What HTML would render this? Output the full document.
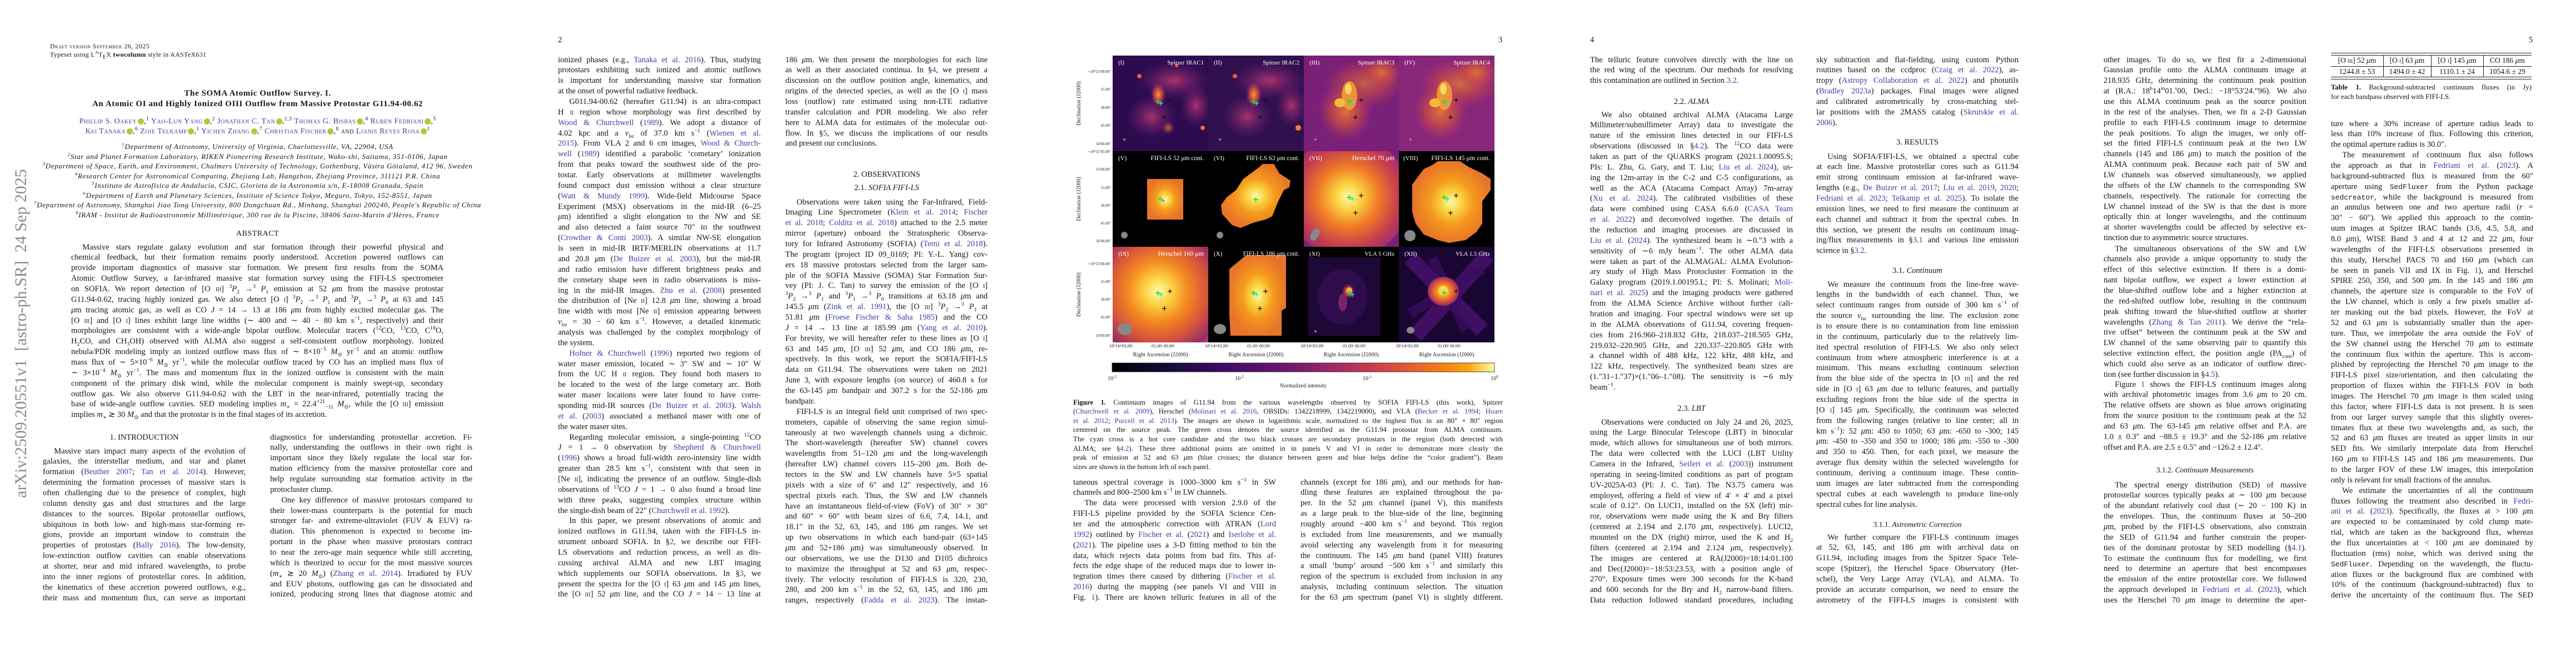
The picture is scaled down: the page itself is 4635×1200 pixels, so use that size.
<!DOCTYPE html>
<html><head><meta charset="utf-8">
<style>
body{margin:0;width:4635px;height:1200px;background:#fff;position:relative;overflow:hidden;font-family:"Liberation Serif","DejaVu Serif",serif;color:#151515}
.pg{position:absolute;top:0;width:927px;height:1200px}
.b{position:absolute;width:365px;font-size:14.5px;line-height:18.87px}
.b div{height:18.87px;overflow:hidden;text-align:justify;text-align-last:justify;white-space:nowrap}
.b div.e{text-align-last:left}
.b div.i{text-indent:1.4em}
.c{color:#3f3fa6}
sup,sub{font-size:68%;line-height:0}
.h{position:absolute;width:365px;text-align:center;font-size:14.5px;line-height:19px;white-space:nowrap}
.pn{position:absolute;top:64px;font-size:14.5px}
.t{position:absolute;white-space:nowrap}
.sc{font-variant:small-caps}
.orc{display:inline-block;width:11px;height:11px;border-radius:50%;background:#a6ce39;vertical-align:middle;margin-left:2px}
</style></head><body>

<!-- PAGE 1 -->
<div class="pg" style="left:0">
<div class="t" style="left:0;top:0;width:0;height:0">
 <div style="position:absolute;left:38px;top:600px;transform:translate(-50%,-50%) rotate(-90deg);font-size:30px;color:#8a8a8a;white-space:nowrap">arXiv:2509.20551v1&nbsp; [astro-ph.SR]&nbsp; 24 Sep 2025</div>
</div>
<div class="t sc" style="left:90px;top:76px;font-size:12px;letter-spacing:.5px">Draft version September 26, 2025</div>
<div class="t" style="left:90px;top:91px;font-size:12px;letter-spacing:.3px">Typeset using L<sup style="font-size:8px">A</sup>T<sub style="font-size:10px">E</sub>X <b>twocolumn</b> style in AASTeX631</div>
<div class="t" style="left:0;width:927px;text-align:center;top:160px;font-size:15px;font-weight:bold;letter-spacing:.6px">The SOMA Atomic Outflow Survey. I.</div>
<div class="t" style="left:0;width:927px;text-align:center;top:179px;font-size:15px;font-weight:bold;letter-spacing:.6px">An Atomic OI and Highly Ionized OIII Outflow from Massive Protostar G11.94-00.62</div>
<div class="t sc c" style="left:0;width:927px;text-align:center;top:211px;font-size:14px;letter-spacing:.5px">Phillip S. Oakey<span class="orc"></span><span style="color:#151515">,<sup>1</sup></span> Yao-Lun Yang<span class="orc"></span><span style="color:#151515">,<sup>2</sup></span> Jonathan C. Tan<span class="orc"></span><span style="color:#151515">,<sup>1,3</sup></span> Thomas G. Bisbas<span class="orc"></span><span style="color:#151515">,<sup>4</sup></span> Rubén Fedriani<span class="orc"></span><span style="color:#151515">,<sup>5</sup></span></div>
<div class="t sc c" style="left:0;width:927px;text-align:center;top:229px;font-size:14px;letter-spacing:.5px">Kei Tanaka<span class="orc"></span><span style="color:#151515">,<sup>6</sup></span> Zoie Telkamp<span class="orc"></span><span style="color:#151515">,<sup>1</sup></span> Yichen Zhang<span class="orc"></span><span style="color:#151515">,<sup>7</sup></span> Christian Fischer<span class="orc"></span><span style="color:#151515">,<sup>8</sup> and </span>Lianis Reyes Rosa<span class="orc"></span><span style="color:#151515"><sup>1</sup></span></div>
<div style="position:absolute;left:0;width:927px;top:255px;text-align:center;font-style:italic;font-size:13px;letter-spacing:.7px;line-height:17.5px;white-space:nowrap">
<div><sup>1</sup>Department of Astronomy, University of Virginia, Charlottesville, VA, 22904, USA</div>
<div><sup>2</sup>Star and Planet Formation Laboratory, RIKEN Pioneering Research Institute, Wako-shi, Saitama, 351-0106, Japan</div>
<div><sup>3</sup>Department of Space, Earth, and Environment, Chalmers University of Technology, Gothenburg, Västra Götaland, 412 96, Sweden</div>
<div><sup>4</sup>Research Center for Astronomical Computing, Zhejiang Lab, Hangzhou, Zhejiang Province, 311121 P.R. China</div>
<div><sup>5</sup>Instituto de Astrofísica de Andalucía, CSIC, Glorieta de la Astronomía s/n, E-18008 Granada, Spain</div>
<div><sup>6</sup>Department of Earth and Planetary Sciences, Institute of Science Tokyo, Meguro, Tokyo, 152-8551, Japan</div>
<div><sup>7</sup>Department of Astronomy, Shanghai Jiao Tong University, 800 Dongchuan Rd., Minhang, Shanghai 200240, People's Republic of China</div>
<div><sup>8</sup>IRAM - Institut de Radioastronomie Millimétrique, 300 rue de la Piscine, 38406 Saint-Martin d'Hères, France</div>
</div>
<div class="t" style="left:0;width:927px;text-align:center;top:413px;font-size:14px;letter-spacing:.5px">ABSTRACT</div>
<div class="b" style="left:128px;top:435.6px;width:670px">
<div class="i">Massive stars regulate galaxy evolution and star formation through their powerful physical and</div>
<div>chemical feedback, but their formation remains poorly understood. Accretion powered outflows can</div>
<div>provide important diagnostics of massive star formation. We present first results from the SOMA</div>
<div>Atomic Outflow Survey, a far-infrared massive star formation survey using the FIFI-LS spectrometer</div>
<div>on SOFIA. We report detection of [O <span class="sc">iii</span>] <sup>3</sup><i>P</i><sub>2</sub> →<sup>3</sup> <i>P</i><sub>1</sub> emission at 52 <i>μ</i>m from the massive protostar</div>
<div>G11.94-0.62, tracing highly ionized gas. We also detect [O <span class="sc">i</span>] <sup>3</sup><i>P</i><sub>2</sub> →<sup>3</sup> <i>P</i><sub>1</sub> and <sup>3</sup><i>P</i><sub>1</sub> →<sup>3</sup> <i>P</i><sub>0</sub> at 63 and 145</div>
<div><i>μ</i>m tracing atomic gas, as well as CO <i>J</i> = 14 → 13 at 186 <i>μ</i>m from highly excited molecular gas. The</div>
<div>[O <span class="sc">iii</span>] and [O <span class="sc">i</span>] lines exhibit large line widths (∼ 400 and ∼ 40 − 80 km s<sup>−1</sup>, respectively) and their</div>
<div>morphologies are consistent with a wide-angle bipolar outflow. Molecular tracers (<sup>12</sup>CO, <sup>13</sup>CO, C<sup>18</sup>O,</div>
<div>H<sub>2</sub>CO, and CH<sub>3</sub>OH) observed with ALMA also suggest a self-consistent outflow morphology. Ionized</div>
<div>nebula/PDR modeling imply an ionized outflow mass flux of ∼ 8×10<sup>−5</sup> <i>M</i><sub>⊙</sub> yr<sup>−1</sup> and an atomic outflow</div>
<div>mass flux of ∼ 5×10<sup>−6</sup> <i>M</i><sub>⊙</sub> yr<sup>−1</sup>, while the molecular outflow traced by CO has an implied mass flux of</div>
<div>∼ 3×10<sup>−4</sup> <i>M</i><sub>⊙</sub> yr<sup>−1</sup>. The mass and momentum flux in the ionized outflow is consistent with the main</div>
<div>component of the primary disk wind, while the molecular component is mainly swept-up, secondary</div>
<div>outflow gas. We also observe G11.94-0.62 with the LBT in the near-infrared, potentially tracing the</div>
<div>base of wide-angle outflow cavities. SED modeling implies <i>m</i><sub>∗</sub> = 22.4<sup>+21</sup><sub>−11</sub> <i>M</i><sub>⊙</sub>, while the [O <span class="sc">iii</span>] emission</div>
<div class="e">implies <i>m</i><sub>∗</sub> ≳ 30 <i>M</i><sub>⊙</sub> and that the protostar is in the final stages of its accretion.</div>
</div>
<div class="h" style="left:77px;top:777.5px">1. INTRODUCTION</div>
<div class="b" style="left:77px;top:802.6px">
<div class="i">Massive stars impact many aspects of the evolution of</div>
<div>galaxies, the interstellar medium, and star and planet</div>
<div>formation (<span class="c">Beuther 2007</span>; <span class="c">Tan et al. 2014</span>). However,</div>
<div>determining the formation processes of massive stars is</div>
<div>often challenging due to the presence of complex, high</div>
<div>column density gas and dust structures and the large</div>
<div>distances to the sources. Bipolar protostellar outflows,</div>
<div>ubiquitous in both low- and high-mass star-forming re-</div>
<div>gions, provide an important window to constrain the</div>
<div>properties of protostars (<span class="c">Bally 2016</span>). The low-density,</div>
<div>low-extinction outflow cavities can enable observations</div>
<div>at shorter, near and mid infrared wavelengths, to probe</div>
<div>into the inner regions of protostellar cores. In addition,</div>
<div>the kinematics of these accretion powered outflows, e.g.,</div>
<div>their mass and momentum flux, can serve as important</div>
</div>
<div class="b" style="left:486px;top:777.6px;width:364px">
<div>diagnostics for understanding protostellar accretion. Fi-</div>
<div>nally, understanding the outflows in their own right is</div>
<div>important since they likely regulate the local star for-</div>
<div>mation efficiency from the massive protostellar core and</div>
<div>help regulate surrounding star formation activity in the</div>
<div class="e">protocluster clump.</div>
<div class="i">One key difference of massive protostars compared to</div>
<div>their lower-mass counterparts is the potential for much</div>
<div>stronger far- and extreme-ultraviolet (FUV &amp; EUV) ra-</div>
<div>diation. This phenomenon is expected to become im-</div>
<div>portant in the phase when massive protostars contract</div>
<div>to near the zero-age main sequence while still accreting,</div>
<div>which is theorized to occur for the most massive sources</div>
<div>(<i>m</i><sub>∗</sub> ≳ 20 <i>M</i><sub>⊙</sub>) (<span class="c">Zhang et al. 2014</span>). Irradiated by FUV</div>
<div>and EUV photons, outflowing gas can be dissociated and</div>
<div>ionized, producing strong lines that diagnose atomic and</div>
</div>
</div>

<!-- PAGE 2 -->
<div class="pg" style="left:927px">
<div class="pn" style="left:77px">2</div>
<div class="b" style="left:77px;top:98.6px">
<div>ionized phases (e.g., <span class="c">Tanaka et al. 2016</span>). Thus, studying</div>
<div>protostars exhibiting such ionized and atomic outflows</div>
<div>is important for understanding massive star formation</div>
<div class="e">at the onset of powerful radiative feedback.</div>
<div class="i">G011.94-00.62 (hereafter G11.94) is an ultra-compact</div>
<div>H <span class="sc">ii</span> region whose morphology was first described by</div>
<div><span class="c">Wood &amp; Churchwell</span> (<span class="c">1989</span>). We adopt a distance of</div>
<div>4.02 kpc and a <i>v</i><sub>lsr</sub> of 37.0 km s<sup>−1</sup> (<span class="c">Wienen et al.</span></div>
<div><span class="c">2015</span>). From VLA 2 and 6 cm images, <span class="c">Wood &amp; Church-</span></div>
<div><span class="c">well</span> (<span class="c">1989</span>) identified a parabolic ‘cometary’ ionization</div>
<div>front that peaks toward the southwest side of the pro-</div>
<div>tostar. Early observations at millimeter wavelengths</div>
<div>found compact dust emission without a clear structure</div>
<div>(<span class="c">Watt &amp; Mundy 1999</span>). Wide-field Midcourse Space</div>
<div>Experiment (MSX) observations in the mid-IR (6–25</div>
<div><i>μ</i>m) identified a slight elongation to the NW and SE</div>
<div>and also detected a faint source 70″ to the southwest</div>
<div>(<span class="c">Crowther &amp; Conti 2003</span>). A similar NW-SE elongation</div>
<div>is seen in mid-IR IRTF/MERLIN observations at 11.7</div>
<div>and 20.8 <i>μ</i>m (<span class="c">De Buizer et al. 2003</span>), but the mid-IR</div>
<div>and radio emission have different brightness peaks and</div>
<div>the cometary shape seen in radio observations is miss-</div>
<div>ing in the mid-IR images. <span class="c">Zhu et al.</span> (<span class="c">2008</span>) presented</div>
<div>the distribution of [Ne <span class="sc">ii</span>] 12.8 <i>μ</i>m line, showing a broad</div>
<div>line width with most [Ne <span class="sc">ii</span>] emission appearing between</div>
<div><i>v</i><sub>lsr</sub> = 30 − 60 km s<sup>−1</sup>. However, a detailed kinematic</div>
<div>analysis was challenged by the complex morphology of</div>
<div class="e">the system.</div>
<div class="i"><span class="c">Hofner &amp; Churchwell</span> (<span class="c">1996</span>) reported two regions of</div>
<div>water maser emission, located ∼ 3″ SW and ∼ 10″ W</div>
<div>from the UC H <span class="sc">ii</span> region. They found both masers to</div>
<div>be located to the west of the large cometary arc. Both</div>
<div>water maser locations were later found to have corre-</div>
<div>sponding mid-IR sources (<span class="c">De Buizer et al. 2003</span>). <span class="c">Walsh</span></div>
<div><span class="c">et al.</span> (<span class="c">2003</span>) associated a methanol maser with one of</div>
<div class="e">the water maser sites.</div>
<div class="i">Regarding molecular emission, a single-pointing <sup>12</sup>CO</div>
<div><i>J</i> = 1 → 0 observation by <span class="c">Shepherd &amp; Churchwell</span></div>
<div>(<span class="c">1996</span>) shows a broad full-width zero-intensity line width</div>
<div>greater than 28.5 km s<sup>−1</sup>, consistent with that seen in</div>
<div>[Ne <span class="sc">ii</span>], indicating the presence of an outflow. Single-dish</div>
<div>observations of <sup>13</sup>CO <i>J</i> = 1 → 0 also found a broad line</div>
<div>with three peaks, suggesting complex structure within</div>
<div class="e">the single-dish beam of 22″ (<span class="c">Churchwell et al. 1992</span>).</div>
<div class="i">In this paper, we present observations of atomic and</div>
<div>ionized outflows in G11.94, taken with the FIFI-LS in-</div>
<div>strument onboard SOFIA. In §<span class="c">2</span>, we describe our FIFI-</div>
<div>LS observations and reduction process, as well as dis-</div>
<div>cussing archival ALMA and new LBT imaging</div>
<div>which supplements our SOFIA observations. In §<span class="c">3</span>, we</div>
<div>present the spectra for the [O <span class="sc">i</span>] 63 <i>μ</i>m and 145 <i>μ</i>m lines,</div>
<div>the [O <span class="sc">iii</span>] 52 <i>μ</i>m line, and the CO <i>J</i> = 14 − 13 line at</div>
</div>
<div class="b" style="left:486px;top:98.6px;width:364px">
<div>186 <i>μ</i>m. We then present the morphologies for each line</div>
<div>as well as their associated continua. In §<span class="c">4</span>, we present a</div>
<div>discussion on the outflow position angle, kinematics, and</div>
<div>origins of the detected species, as well as the [O <span class="sc">i</span>] mass</div>
<div>loss (outflow) rate estimated using non-LTE radiative</div>
<div>transfer calculation and PDR modeling. We also refer</div>
<div>here to ALMA data for estimates of the molecular out-</div>
<div>flow. In §<span class="c">5</span>, we discuss the implications of our results</div>
<div class="e">and present our conclusions.</div>
</div>
<div class="h" style="left:486px;top:304.5px">2. OBSERVATIONS</div>
<div class="h" style="left:486px;top:328.5px">2.1. <i>SOFIA FIFI-LS</i></div>
<div class="b" style="left:486px;top:354.6px;width:364px">
<div class="i">Observations were taken using the Far-Infrared, Field-</div>
<div>Imaging Line Spectrometer (<span class="c">Klein et al. 2014</span>; <span class="c">Fischer</span></div>
<div><span class="c">et al. 2018</span>; <span class="c">Colditz et al. 2018</span>) attached to the 2.5 meter</div>
<div>mirror (aperture) onboard the Stratospheric Observa-</div>
<div>tory for Infrared Astronomy (SOFIA) (<span class="c">Temi et al. 2018</span>).</div>
<div>The program (project ID 09_0169; PI: Y.-L. Yang) cov-</div>
<div>ers 18 massive protostars selected from the larger sam-</div>
<div>ple of the SOFIA Massive (SOMA) Star Formation Sur-</div>
<div>vey (PI: J. C. Tan) to survey the emission of the [O <span class="sc">i</span>]</div>
<div><sup>3</sup><i>P</i><sub>2</sub> →<sup>3</sup> <i>P</i><sub>1</sub> and <sup>3</sup><i>P</i><sub>1</sub> →<sup>3</sup> <i>P</i><sub>0</sub> transitions at 63.18 <i>μ</i>m and</div>
<div>145.5 <i>μ</i>m (<span class="c">Zink et al. 1991</span>), the [O <span class="sc">iii</span>] <sup>3</sup><i>P</i><sub>2</sub> →<sup>3</sup> <i>P</i><sub>1</sub> at</div>
<div>51.81 <i>μ</i>m (<span class="c">Froese Fischer &amp; Saha 1985</span>) and the CO</div>
<div><i>J</i> = 14 → 13 line at 185.99 <i>μ</i>m (<span class="c">Yang et al. 2010</span>).</div>
<div>For brevity, we will hereafter refer to these lines as [O <span class="sc">i</span>]</div>
<div>63 and 145 <i>μ</i>m, [O <span class="sc">iii</span>] 52 <i>μ</i>m, and CO 186 <i>μ</i>m, re-</div>
<div>spectively. In this work, we report the SOFIA/FIFI-LS</div>
<div>data on G11.94. The observations were taken on 2021</div>
<div>June 3, with exposure lengths (on source) of 460.8 s for</div>
<div>the 63-145 <i>μ</i>m bandpair and 307.2 s for the 52-186 <i>μ</i>m</div>
<div class="e">bandpair.</div>
<div class="i">FIFI-LS is an integral field unit comprised of two spec-</div>
<div>trometers, capable of observing the same region simul-</div>
<div>taneously at two wavelength channels using a dichroic.</div>
<div>The short-wavelength (hereafter SW) channel covers</div>
<div>wavelengths from 51–120 <i>μ</i>m and the long-wavelength</div>
<div>(hereafter LW) channel covers 115–200 <i>μ</i>m. Both de-</div>
<div>tectors in the SW and LW channels have 5×5 spatial</div>
<div>pixels with a size of 6″ and 12″ respectively, and 16</div>
<div>spectral pixels each. Thus, the SW and LW channels</div>
<div>have an instantaneous field-of-view (FoV) of 30″ × 30″</div>
<div>and 60″ × 60″ with beam sizes of 6.6, 7.4, 14.1, and</div>
<div>18.1″ in the 52, 63, 145, and 186 <i>μ</i>m ranges. We set</div>
<div>up two observations in which each band-pair (63+145</div>
<div><i>μ</i>m and 52+186 <i>μ</i>m) was simultaneously observed. In</div>
<div>our observations, we use the D130 and D105 dichroics</div>
<div>to maximize the throughput at 52 and 63 <i>μ</i>m, respec-</div>
<div>tively. The velocity resolution of FIFI-LS is 320, 230,</div>
<div>280, and 200 km s<sup>−1</sup> in the 52, 63, 145, and 186 <i>μ</i>m</div>
<div>ranges, respectively (<span class="c">Fadda et al. 2023</span>). The instan-</div>
</div>
</div>

<!-- PAGE 3 -->
<div class="pg" style="left:1854px">
<div class="pn" style="left:842px">3</div>
<svg style="position:absolute;left:0;top:0" width="927" height="710" xmlns="http://www.w3.org/2000/svg" font-family="Liberation Serif, serif">
<defs>
<linearGradient id="cb" x1="0" x2="1" y1="0" y2="0">
<stop offset="0" stop-color="#000004"/><stop offset=".15" stop-color="#160b39"/><stop offset=".3" stop-color="#420a68"/><stop offset=".45" stop-color="#6a176e"/><stop offset=".55" stop-color="#932667"/><stop offset=".65" stop-color="#bc3754"/><stop offset=".75" stop-color="#dd513a"/><stop offset=".85" stop-color="#f37819"/><stop offset=".93" stop-color="#fca50a"/><stop offset="1" stop-color="#fcffa4"/>
</linearGradient>
<radialGradient id="hot"><stop offset="0" stop-color="#fcfbb0"/><stop offset=".25" stop-color="#fbd443"/><stop offset=".55" stop-color="#f59a1c"/><stop offset="1" stop-color="#e8742a"/></radialGradient>
<radialGradient id="hot2"><stop offset="0" stop-color="#fcfbb0"/><stop offset=".2" stop-color="#fbd443"/><stop offset=".45" stop-color="#f48a20"/><stop offset=".75" stop-color="#d4503e"/><stop offset="1" stop-color="#8e2a6a"/></radialGradient>
<radialGradient id="hot3"><stop offset="0" stop-color="#fcfbb0"/><stop offset=".2" stop-color="#fbd443"/><stop offset=".5" stop-color="#f07a26"/><stop offset=".8" stop-color="#c8404e"/><stop offset="1" stop-color="#a0306a"/></radialGradient>
<radialGradient id="blob"><stop offset="0" stop-color="#f7a030"/><stop offset=".5" stop-color="#d8503e" stop-opacity=".8"/><stop offset="1" stop-color="#8a2470" stop-opacity="0"/></radialGradient>
<radialGradient id="cloud"><stop offset="0" stop-color="#b8386a" stop-opacity=".9"/><stop offset="1" stop-color="#6a1a7a" stop-opacity="0"/></radialGradient>
<radialGradient id="cloud2"><stop offset="0" stop-color="#f08a2a"/><stop offset=".5" stop-color="#d8503e" stop-opacity=".8"/><stop offset="1" stop-color="#b03a60" stop-opacity="0"/></radialGradient>
<g id="c3"><path d="M77 83h9M81.5 78.5v9" stroke="#22e022" stroke-width="1.8"/><path d="M83 86h8M87 82v8" stroke="#30d8e0" stroke-width="1.5"/><path d="M99 80h8M103 76v8M89 111h8M93 107v8" stroke="#111" stroke-width="1.3"/></g>
</defs>
<!-- row 1 -->
<svg x="148" y="100" width="172" height="172"><rect width="172" height="172" fill="#2c0c4e"/>
<ellipse cx="110" cy="45" rx="70" ry="35" fill="url(#cloud)"/><ellipse cx="70" cy="110" rx="45" ry="40" fill="url(#cloud)"/><ellipse cx="150" cy="90" rx="30" ry="40" fill="url(#cloud)"/>
<ellipse cx="82" cy="70" rx="14" ry="22" fill="url(#blob)"/><ellipse cx="100" cy="130" rx="12" ry="12" fill="url(#blob)" opacity=".6"/>
<circle cx="48" cy="37" r="4" fill="#e0603a"/><circle cx="162" cy="130" r="4" fill="#e8703a"/><circle cx="115" cy="18" r="3" fill="#e0603a"/>
<circle cx="21" cy="151" r="2" fill="#888"/><use href="#c3"/>
<text x="10" y="16" fill="#fff" font-size="11">(I)</text><text x="164" y="16" fill="#fff" font-size="11" text-anchor="end">Spitzer IRAC1</text></svg>
<svg x="320" y="100" width="172" height="172"><rect width="172" height="172" fill="#30104f"/>
<ellipse cx="110" cy="45" rx="70" ry="35" fill="url(#cloud)"/><ellipse cx="70" cy="110" rx="45" ry="40" fill="url(#cloud)"/><ellipse cx="150" cy="90" rx="30" ry="40" fill="url(#cloud)"/>
<ellipse cx="82" cy="70" rx="15" ry="24" fill="url(#blob)"/><circle cx="48" cy="37" r="4" fill="#e0603a"/><circle cx="162" cy="130" r="5" fill="#f0803a"/>
<circle cx="21" cy="151" r="2" fill="#888"/><use href="#c3"/>
<text x="10" y="16" fill="#fff" font-size="11">(II)</text><text x="164" y="16" fill="#fff" font-size="11" text-anchor="end">Spitzer IRAC2</text></svg>
<svg x="492" y="100" width="171" height="172"><rect width="172" height="172" fill="#7a2078"/>
<ellipse cx="110" cy="50" rx="75" ry="45" fill="url(#cloud2)" opacity=".6"/><ellipse cx="75" cy="100" rx="50" ry="55" fill="url(#cloud2)" opacity=".8"/><ellipse cx="140" cy="30" rx="40" ry="30" fill="url(#cloud2)" opacity=".7"/>
<ellipse cx="82" cy="72" rx="14" ry="26" fill="#f6a232" opacity=".85"/><ellipse cx="80" cy="60" rx="6" ry="10" fill="#fbd860"/><ellipse cx="65" cy="85" rx="10" ry="8" fill="#f8b840"/>
<circle cx="21" cy="151" r="2" fill="#888"/><use href="#c3"/>
<text x="10" y="16" fill="#fff" font-size="11">(III)</text><text x="163" y="16" fill="#fff" font-size="11" text-anchor="end">Spitzer IRAC3</text></svg>
<svg x="663" y="100" width="172" height="172"><rect width="172" height="172" fill="#88267a"/>
<ellipse cx="110" cy="50" rx="75" ry="45" fill="url(#cloud2)" opacity=".7"/><ellipse cx="75" cy="100" rx="50" ry="55" fill="url(#cloud2)" opacity=".8"/><ellipse cx="140" cy="30" rx="40" ry="30" fill="url(#cloud2)" opacity=".7"/>
<ellipse cx="82" cy="72" rx="14" ry="26" fill="#f6a232" opacity=".85"/><ellipse cx="80" cy="60" rx="6" ry="10" fill="#fbd860"/><ellipse cx="65" cy="85" rx="10" ry="8" fill="#f8b840"/>
<circle cx="21" cy="151" r="2" fill="#888"/><use href="#c3"/>
<text x="10" y="16" fill="#fff" font-size="11">(IV)</text><text x="164" y="16" fill="#fff" font-size="11" text-anchor="end">Spitzer IRAC4</text></svg>
<!-- row 2 -->
<svg x="148" y="272" width="172" height="172"><rect width="172" height="172" fill="#000"/>
<rect x="62" y="50" width="65" height="73" fill="url(#hot)"/><circle cx="21" cy="151" r="6" fill="#888"/>
<path d="M81 86h9M85.5 81.5v9" stroke="#22e022" stroke-width="1.8"/><path d="M88 89h6M91 86v6" stroke="#5080e0" stroke-width="1.3"/>
<text x="10" y="16" fill="#fff" font-size="11">(V)</text><text x="164" y="16" fill="#fff" font-size="11.5" text-anchor="end">FIFI-LS 52 μm cont.</text></svg>
<svg x="320" y="272" width="172" height="172"><rect width="172" height="172" fill="#000"/>
<polygon points="23,97 33,83 50,70 63,50 90,30 98,23 118,23 128,40 148,53 146,65 136,70 126,90 115,117 103,123 83,128 58,138 43,133 25,113" fill="url(#hot)"/><circle cx="21" cy="151" r="6" fill="#888"/>
<path d="M81 87h9M85.5 82.5v9" stroke="#22e022" stroke-width="1.8"/>
<text x="10" y="16" fill="#fff" font-size="11">(VI)</text><text x="164" y="16" fill="#fff" font-size="11.5" text-anchor="end">FIFI-LS 63 μm cont.</text></svg>
<svg x="492" y="272" width="171" height="172"><rect width="172" height="172" fill="#7a2078"/>
<circle cx="80" cy="82" r="110" fill="url(#hot3)"/><ellipse cx="20" cy="150" rx="7" ry="12" transform="rotate(30 20 150)" fill="#888"/>
<use href="#c3"/>
<text x="10" y="16" fill="#fff" font-size="11">(VII)</text><text x="163" y="16" fill="#fff" font-size="12" text-anchor="end">Herschel 70 μm</text></svg>
<svg x="663" y="272" width="172" height="172"><rect width="172" height="172" fill="#000"/>
<polygon points="45,32 60,25 70,18 110,18 125,28 150,40 165,50 165,70 150,90 150,130 140,145 120,160 90,165 70,160 45,150 30,130 24,110 24,60 35,45" fill="url(#hot)"/><circle cx="20" cy="152" r="10" fill="#888"/>
<use href="#c3"/>
<text x="8" y="16" fill="#fff" font-size="11">(VIII)</text><text x="164" y="16" fill="#fff" font-size="12" text-anchor="end">FIFI-LS 145 μm cont.</text></svg>
<!-- row 3 -->
<svg x="148" y="444" width="172" height="172"><rect width="172" height="172" fill="#b8366a"/>
<circle cx="82" cy="80" r="120" fill="url(#hot2)"/><ellipse cx="22" cy="148" rx="13" ry="11" fill="#888"/>
<use href="#c3"/>
<text x="10" y="16" fill="#fff" font-size="11">(IX)</text><text x="164" y="16" fill="#fff" font-size="12" text-anchor="end">Herschel 160 μm</text></svg>
<svg x="320" y="444" width="172" height="172"><rect width="172" height="172" fill="#000"/>
<polygon points="50,30 60,22 68,15 140,15 140,110 132,115 132,160 40,160 38,120 38,40" fill="url(#hot)"/><ellipse cx="21" cy="148" rx="11" ry="9" fill="#888"/>
<use href="#c3"/>
<text x="10" y="16" fill="#fff" font-size="11">(X)</text><text x="164" y="16" fill="#fff" font-size="11.5" text-anchor="end">FIFI-LS 186 μm cont.</text></svg>
<svg x="492" y="444" width="171" height="172"><rect width="172" height="172" fill="#000"/>
<rect x="8" y="19" width="130" height="141" fill="#1e0838"/>
<ellipse cx="70" cy="90" rx="45" ry="50" fill="#3a0f5e" opacity=".6"/>
<ellipse cx="80" cy="80" rx="12" ry="14" fill="url(#blob)"/><ellipse cx="70" cy="100" rx="8" ry="16" fill="#8e2a6a" opacity=".8"/><circle cx="82" cy="78" r="5" fill="#f8b040"/>
<circle cx="21" cy="152" r="2" fill="#888"/>
<path d="M77 83h9M81.5 78.5v9" stroke="#22e022" stroke-width="1.8"/><path d="M83 86h8M87 82v8" stroke="#30d8e0" stroke-width="1.5"/>
<text x="10" y="16" fill="#fff" font-size="11">(XI)</text><text x="163" y="16" fill="#fff" font-size="11" text-anchor="end">VLA 5 GHz</text></svg>
<svg x="663" y="444" width="172" height="172"><rect width="172" height="172" fill="#1a0632"/>
<path d="M20 20L150 150M160 15L30 160" stroke="#4a1270" stroke-width="28" opacity=".8"/>
<path d="M60 20L120 150M150 40L20 120" stroke="#3a0d5e" stroke-width="18" opacity=".8"/>
<ellipse cx="80" cy="80" rx="28" ry="26" fill="url(#hot2)"/><circle cx="80" cy="78" r="8" fill="#fbd860"/><ellipse cx="21" cy="150" rx="7" ry="6" fill="#888"/>
<path d="M77 83h9M81.5 78.5v9" stroke="#22e022" stroke-width="1.8"/><path d="M99 80h8M103 76v8" stroke="#111" stroke-width="1.3"/>
<text x="10" y="16" fill="#fff" font-size="11">(XII)</text><text x="164" y="16" fill="#fff" font-size="11" text-anchor="end">VLA 1.5 GHz</text></svg>
<!-- axis labels -->
<g font-size="10" fill="#222">
<text transform="translate(90 186) rotate(-90)" text-anchor="middle">Declination (J2000)</text>
<text transform="translate(90 358) rotate(-90)" text-anchor="middle">Declination (J2000)</text>
<text transform="translate(90 530) rotate(-90)" text-anchor="middle">Declination (J2000)</text>
</g>
<g font-size="7" fill="#222" text-anchor="end">
<text x="145" y="131">+18°53′00.00″</text><text x="145" y="163">15.00″</text><text x="145" y="196">30.00″</text><text x="145" y="228">45.00″</text><text x="145" y="261">54′00.00″</text>
<text x="145" y="275">+18°52′45.00″</text><text x="145" y="307">53′00.00″</text><text x="145" y="340">15.00″</text><text x="145" y="372">30.00″</text><text x="145" y="404">45.00″</text><text x="145" y="436">54′00.00″</text>
<text x="145" y="477">+18°53′00.00″</text><text x="145" y="509">15.00″</text><text x="145" y="541">30.00″</text><text x="145" y="573">45.00″</text><text x="145" y="606">54′00.00″</text>
</g>
<g font-size="8" fill="#222">
<text x="142" y="625">18ʰ14ᵐ03.00ˢ</text><text x="218" y="625">01.00ˢ 00.00ˢ</text>
<text x="314" y="625">18ʰ14ᵐ03.00ˢ</text><text x="390" y="625">01.00ˢ 00.00ˢ</text>
<text x="486" y="625">18ʰ14ᵐ03.00ˢ</text><text x="562" y="625">01.00ˢ 00.00ˢ</text>
<text x="657" y="625">18ʰ14ᵐ03.00ˢ</text><text x="733" y="625">01.00ˢ 00.00ˢ</text>
</g>
<g font-size="10" fill="#222" text-anchor="middle">
<text x="234" y="641">Right Ascension (J2000)</text><text x="406" y="641">Right Ascension (J2000)</text><text x="577" y="641">Right Ascension (J2000)</text><text x="749" y="641">Right Ascension (J2000)</text>
</g>
<rect x="147" y="653" width="688" height="16" fill="url(#cb)" stroke="#222" stroke-width=".8"/>
<g font-size="10" fill="#222" text-anchor="middle">
<text x="147" y="684">10<tspan dy="-4" font-size="7">-3</tspan></text><text x="376" y="684">10<tspan dy="-4" font-size="7">-2</tspan></text><text x="606" y="684">10<tspan dy="-4" font-size="7">-1</tspan></text><text x="835" y="684">10<tspan dy="-4" font-size="7">0</tspan></text>
<text x="491" y="697">Normalized intensity</text>
</g>
</svg>
<div style="position:absolute;left:77px;top:715.7px;width:773px;font-size:12.8px;line-height:16.6px">
<div style="text-align:justify;text-align-last:justify;white-space:nowrap;height:16.6px;overflow:hidden"><b>Figure 1.</b> Continuum images of G11.94 from the various wavelengths observed by SOFIA FIFI-LS (this work), Spitzer</div>
<div style="text-align:justify;text-align-last:justify;white-space:nowrap;height:16.6px;overflow:hidden">(<span class="c">Churchwell et al. 2009</span>), Herschel (<span class="c">Molinari et al. 2016</span>, OBSIDs: 1342218999, 1342219000), and VLA (<span class="c">Becker et al. 1994</span>; <span class="c">Hoare</span></div>
<div style="text-align:justify;text-align-last:justify;white-space:nowrap;height:16.6px;overflow:hidden"><span class="c">et al. 2012</span>; <span class="c">Purcell et al. 2013</span>). The images are shown in logarithmic scale, normalized to the highest flux in an 80″ × 80″ region</div>
<div style="text-align:justify;text-align-last:justify;white-space:nowrap;height:16.6px;overflow:hidden">centered on the source peak. The green cross denotes the source identified as the G11.94 protostar from ALMA continuum.</div>
<div style="text-align:justify;text-align-last:justify;white-space:nowrap;height:16.6px;overflow:hidden">The cyan cross is a hot core candidate and the two black crosses are secondary protostars in the region (both detected with</div>
<div style="text-align:justify;text-align-last:justify;white-space:nowrap;height:16.6px;overflow:hidden">ALMA; see §<span class="c">4.2</span>). These three additional points are omitted in in panels V and VI in order to demonstrate more clearly the</div>
<div style="text-align:justify;text-align-last:justify;white-space:nowrap;height:16.6px;overflow:hidden">peak of emission at 52 and 63 <i>μ</i>m (blue crosses; the distance between green and blue helps define the “color gradient”). Beam</div>
<div style="white-space:nowrap;height:16.6px">sizes are shown in the bottom left of each panel.</div>
</div>
<div class="b" style="left:77px;top:858.6px">
<div>taneous spectral coverage is 1000–3000 km s<sup>−1</sup> in SW</div>
<div class="e">channels and 800–2500 km s<sup>−1</sup> in LW channels.</div>
<div class="i">The data were processed with version 2.9.0 of the</div>
<div>FIFI-LS pipeline provided by the SOFIA Science Cen-</div>
<div>ter and the atmospheric correction with ATRAN (<span class="c">Lord</span></div>
<div><span class="c">1992</span>) outlined by <span class="c">Fischer et al.</span> (<span class="c">2021</span>) and <span class="c">Iserlohe et al.</span></div>
<div>(<span class="c">2021</span>). The pipeline uses a 3-D fitting method to bin the</div>
<div>data, which rejects data points from bad fits. This af-</div>
<div>fects the edge shape of the reduced maps due to lower in-</div>
<div>tegration times there caused by dithering (<span class="c">Fischer et al.</span></div>
<div><span class="c">2016</span>) during the mapping (see panels VI and VIII in</div>
<div>Fig. <span class="c">1</span>). There are known telluric features in all of the</div>
</div>
<div class="b" style="left:486px;top:858.6px;width:364px">
<div>channels (except for 186 <i>μ</i>m), and our methods for han-</div>
<div>dling these features are explained throughout the pa-</div>
<div>per. In the 52 <i>μ</i>m channel (panel V), this manifests</div>
<div>as a large peak to the blue-side of the line, beginning</div>
<div>roughly around −400 km s<sup>−1</sup> and beyond. This region</div>
<div>is excluded from line measurements, and we manually</div>
<div>avoid selecting any wavelength from it for measuring</div>
<div>the continuum. The 145 <i>μ</i>m band (panel VIII) features</div>
<div>a small ‘bump’ around −500 km s<sup>−1</sup> and similarly this</div>
<div>region of the spectrum is excluded from inclusion in any</div>
<div>analysis, including continuum selection. The situation</div>
<div>for the 63 <i>μ</i>m spectrum (panel VI) is slightly different.</div>
</div>
</div>

<!-- PAGE 4 -->
<div class="pg" style="left:2781px">
<div class="pn" style="left:80px">4</div>
<div class="b" style="left:80px;top:98.6px">
<div>The telluric feature convolves directly with the line on</div>
<div>the red wing of the spectrum. Our methods for resolving</div>
<div class="e">this contamination are outlined in Section <span class="c">3.2</span>.</div>
</div>
<div class="h" style="left:80px;top:173.5px">2.2. <i>ALMA</i></div>
<div class="b" style="left:80px;top:197.6px">
<div class="i">We also obtained archival ALMA (Atacama Large</div>
<div>Millimeter/submillimeter Array) data to investigate the</div>
<div>nature of the emission lines detected in our FIFI-LS</div>
<div>observations (discussed in §<span class="c">4.2</span>). The <sup>12</sup>CO data were</div>
<div>taken as part of the QUARKS program (2021.1.00095.S;</div>
<div>PIs: L. Zhu, G. Gary, and T. Liu; <span class="c">Liu et al. 2024</span>), us-</div>
<div>ing the 12m-array in the C-2 and C-5 configurations, as</div>
<div>well as the ACA (Atacama Compact Array) 7m-array</div>
<div>(<span class="c">Xu et al. 2024</span>). The calibrated visibilities of these</div>
<div>data were combined using CASA 6.6.0 (<span class="c">CASA Team</span></div>
<div><span class="c">et al. 2022</span>) and deconvolved together. The details of</div>
<div>the reduction and imaging processes are discussed in</div>
<div><span class="c">Liu et al.</span> (<span class="c">2024</span>). The synthesized beam is ∼0.″3 with a</div>
<div>sensitivity of ∼6 mJy beam<sup>−1</sup>. The other ALMA data</div>
<div>were taken as part of the ALMAGAL: ALMA Evolution-</div>
<div>ary study of High Mass Protocluster Formation in the</div>
<div>Galaxy program (2019.1.00195.L; PI: S. Molinari; <span class="c">Moli-</span></div>
<div><span class="c">nari et al. 2025</span>) and the imaging products were gathered</div>
<div>from the ALMA Science Archive without further cali-</div>
<div>bration and imaging. Four spectral windows were set up</div>
<div>in the ALMA observations of G11.94, covering frequen-</div>
<div>cies from 216.960–218.832 GHz, 218.037–218.505 GHz,</div>
<div>219.032–220.905 GHz, and 220.337–220.805 GHz with</div>
<div>a channel width of 488 kHz, 122 kHz, 488 kHz, and</div>
<div>122 kHz, respectively. The synthesized beam sizes are</div>
<div>(1.″31–1.″37)×(1.″06–1.″08). The sensitivity is ∼6 mJy</div>
<div class="e">beam<sup>−1</sup>.</div>
</div>
<div class="h" style="left:80px;top:725.5px">2.3. <i>LBT</i></div>
<div class="b" style="left:80px;top:750.6px">
<div class="i">Observations were conducted on July 24 and 26, 2025,</div>
<div>using the Large Binocular Telescope (LBT) in binocular</div>
<div>mode, which allows for simultaneous use of both mirrors.</div>
<div>The data were collected with the LUCI (LBT Utility</div>
<div>Camera in the Infrared, <span class="c">Seifert et al.</span> (<span class="c">2003</span>)) instrument</div>
<div>operating in seeing-limited conditions as part of program</div>
<div>UV-2025A-03 (PI: J. C. Tan). The N3.75 camera was</div>
<div>employed, offering a field of view of 4′ × 4′ and a pixel</div>
<div>scale of 0.12″. On LUCI1, installed on the SX (left) mir-</div>
<div>ror, observations were made using the K and Br<i>γ</i> filters</div>
<div>(centered at 2.194 and 2.170 <i>μ</i>m, respectively). LUCI2,</div>
<div>mounted on the DX (right) mirror, used the K and H<sub>2</sub></div>
<div>filters (centered at 2.194 and 2.124 <i>μ</i>m, respectively).</div>
<div>The images are centered at RA(J2000)=18:14:01.100</div>
<div>and Dec(J2000)=−18:53:23.53, with a position angle of</div>
<div>270°. Exposure times were 300 seconds for the K-band</div>
<div>and 600 seconds for the Br<i>γ</i> and H<sub>2</sub> narrow-band filters.</div>
<div>Data reduction followed standard procedures, including</div>
</div>
<div class="b" style="left:487px;top:98.6px;width:364px">
<div>sky subtraction and flat-fielding, using custom Python</div>
<div>routines based on the ccdproc (<span class="c">Craig et al. 2022</span>), as-</div>
<div>tropy (<span class="c">Astropy Collaboration et al. 2022</span>) and photutils</div>
<div>(<span class="c">Bradley 2023a</span>) packages. Final images were aligned</div>
<div>and calibrated astrometrically by cross-matching stel-</div>
<div>lar positions with the 2MASS catalog (<span class="c">Skrutskie et al.</span></div>
<div class="e"><span class="c">2006</span>).</div>
</div>
<div class="h" style="left:487px;top:246.5px;width:364px">3. RESULTS</div>
<div class="b" style="left:487px;top:272.6px;width:364px">
<div class="i">Using SOFIA/FIFI-LS, we obtained a spectral cube</div>
<div>at each line. Massive protostellar cores such as G11.94</div>
<div>emit strong continuum emission at far-infrared wave-</div>
<div>lengths (e.g., <span class="c">De Buizer et al. 2017</span>; <span class="c">Liu et al. 2019</span>, <span class="c">2020</span>;</div>
<div><span class="c">Fedriani et al. 2023</span>; <span class="c">Telkamp et al. 2025</span>). To isolate the</div>
<div>emission lines, we need to first measure the continuum at</div>
<div>each channel and subtract it from the spectral cubes. In</div>
<div>this section, we present the results on continuum imag-</div>
<div>ing/flux measurements in §<span class="c">3.1</span> and various line emission</div>
<div class="e">science in §<span class="c">3.2</span>.</div>
</div>
<div class="h" style="left:487px;top:477.5px;width:364px">3.1. <i>Continuum</i></div>
<div class="b" style="left:487px;top:502.6px;width:364px">
<div class="i">We measure the continuum from the line-free wave-</div>
<div>lengths in the bandwidth of each channel. Thus, we</div>
<div>select continuum ranges from outside of 300 km s<sup>−1</sup> of</div>
<div>the source <i>v</i><sub>lsr</sub> surrounding the line. The exclusion zone</div>
<div>is to ensure there is no contamination from line emission</div>
<div>in the continuum, particularly due to the relatively lim-</div>
<div>ited spectral resolution of FIFI-LS. We also only select</div>
<div>continuum from where atmospheric interference is at a</div>
<div>minimum. This means excluding continuum selection</div>
<div>from the blue side of the spectra in [O <span class="sc">iii</span>] and the red</div>
<div>side in [O <span class="sc">i</span>] 63 <i>μ</i>m due to telluric features, and partially</div>
<div>excluding regions from the blue side of the spectra in</div>
<div>[O <span class="sc">i</span>] 145 <i>μ</i>m. Specifically, the continuum was selected</div>
<div>from the following ranges (relative to line center; all in</div>
<div>km s<sup>−1</sup>): 52 <i>μ</i>m: 450 to 1050; 63 <i>μ</i>m: -650 to -300; 145</div>
<div><i>μ</i>m: -450 to -350 and 350 to 1000; 186 <i>μ</i>m: -550 to -300</div>
<div>and 350 to 450. Then, for each pixel, we measure the</div>
<div>average flux density within the selected wavelengths for</div>
<div>continuum, deriving a continuum image. These contin-</div>
<div>uum images are later subtracted from the corresponding</div>
<div>spectral cubes at each wavelength to produce line-only</div>
<div class="e">spectral cubes for line analysis.</div>
</div>
<div class="h" style="left:487px;top:933.5px;width:364px;font-size:13.5px">3.1.1. <i>Astrometric Correction</i></div>
<div class="b" style="left:487px;top:957.6px;width:364px">
<div class="i">We further compare the FIFI-LS continuum images</div>
<div>at 52, 63, 145, and 186 <i>μ</i>m with archival data on</div>
<div>G11.94, including images from the Spitzer Space Tele-</div>
<div>scope (Spitzer), the Herschel Space Observatory (Her-</div>
<div>schel), the Very Large Array (VLA), and ALMA. To</div>
<div>provide an accurate comparison, we need to ensure the</div>
<div>astrometry of the FIFI-LS images is consistent with</div>
</div>
</div>

<!-- PAGE 5 -->
<div class="pg" style="left:3708px">
<div class="pn" style="left:842px">5</div>
<div class="b" style="left:77px;top:98.6px">
<div>other images. To do so, we first fit a 2-dimensional</div>
<div>Gaussian profile onto the ALMA continuum image at</div>
<div>218.935 GHz, determining the continuum peak position</div>
<div>at (R.A.: 18<sup>h</sup>14<sup>m</sup>01.<sup>s</sup>00, Decl.: −18°53′24.″96). We also</div>
<div>use this ALMA continuum peak as the source position</div>
<div>in the rest of the analyses. Then, we fit a 2-D Gaussian</div>
<div>profile to each FIFI-LS continuum image to determine</div>
<div>the peak positions. To align the images, we only off-</div>
<div>set the fitted FIFI-LS continuum peak at the two LW</div>
<div>channels (145 and 186 <i>μ</i>m) to match the position of the</div>
<div>ALMA continuum peak. Because each pair of SW and</div>
<div>LW channels was observed simultaneously, we applied</div>
<div>the offsets of the LW channels to the corresponding SW</div>
<div>channels, respectively. The rationale for correcting the</div>
<div>LW channel instead of the SW is that the dust is more</div>
<div>optically thin at longer wavelengths, and the continuum</div>
<div>at shorter wavelengths could be affected by selective ex-</div>
<div class="e">tinction due to asymmetric source structures.</div>
</div>
<div class="b" style="left:77px;top:438.6px">
<div class="i">The simultaneous observations of the SW and LW</div>
<div>channels also provide a unique opportunity to study the</div>
<div>effect of this selective extinction. If there is a domi-</div>
<div>nant bipolar outflow, we expect a lower extinction at</div>
<div>the blue-shifted outflow lobe and a higher extinction at</div>
<div>the red-shifted outflow lobe, resulting in the continuum</div>
<div>peak shifting toward the blue-shifted outflow at shorter</div>
<div>wavelengths (<span class="c">Zhang &amp; Tan 2011</span>). We derive the “rela-</div>
<div>tive offset” between the continuum peak at the SW and</div>
<div>LW channel of the same observing pair to quantify this</div>
<div>selective extinction effect, the position angle (PA<sub>cont</sub>) of</div>
<div>which could also serve as an indicator of outflow direc-</div>
<div class="e">tion (see further discussion in §<span class="c">4.5</span>).</div>
</div>
<div class="b" style="left:77px;top:682.6px">
<div class="i">Figure <span class="c">1</span> shows the FIFI-LS continuum images along</div>
<div>with archival photometric images from 3.6 <i>μ</i>m to 20 cm.</div>
<div>The relative offsets are shown as blue arrows originating</div>
<div>from the source position to the continuum peak at the 52</div>
<div>and 63 <i>μ</i>m. The 63-145 <i>μ</i>m relative offset and P.A. are</div>
<div>1.0 ± 0.3″ and −88.5 ± 19.3° and the 52-186 <i>μ</i>m relative</div>
<div class="e">offset and P.A. are 2.5 ± 0.5″ and −126.2 ± 12.4°.</div>
</div>
<div class="h" style="left:77px;top:835.5px;font-size:13.5px">3.1.2. <i>Continuum Measurements</i></div>
<div class="b" style="left:77px;top:863.6px">
<div class="i">The spectral energy distribution (SED) of massive</div>
<div>protostellar sources typically peaks at ∼ 100 <i>μ</i>m because</div>
<div>of the abundant relatively cool dust (∼ 20 − 100 K) in</div>
<div>the envelopes. Thus, the continuum fluxes at 50–200</div>
<div><i>μ</i>m, probed by the FIFI-LS observations, also constrain</div>
<div>the SED of G11.94 and further constrain the proper-</div>
<div>ties of the dominant protostar by SED modelling (§<span class="c">4.1</span>).</div>
<div>To estimate the continuum flux for modelling, we first</div>
<div>need to determine an aperture that best encompasses</div>
<div>the emission of the entire protostellar core. We followed</div>
<div>the approach developed in <span class="c">Fedriani et al.</span> (<span class="c">2023</span>), which</div>
<div>uses the Herschel 70 <i>μ</i>m image to determine the aper-</div>
</div>
<!-- table -->
<div style="position:absolute;left:486px;top:95px;width:361px;height:3px;border-top:1px solid #222;border-bottom:1px solid #222"></div>
<div style="position:absolute;left:486px;top:119px;width:361px;border-top:1px solid #222"></div>
<div style="position:absolute;left:486px;top:138px;width:361px;height:3px;border-top:1px solid #222;border-bottom:1px solid #222"></div>
<div style="position:absolute;left:580px;top:99px;height:39px;border-left:1px solid #222"></div>
<div style="position:absolute;left:666px;top:99px;height:39px;border-left:1px solid #222"></div>
<div style="position:absolute;left:760px;top:99px;height:39px;border-left:1px solid #222"></div>
<div class="t" style="left:486px;width:94px;text-align:center;top:101px;font-size:13.5px">[O <span class="sc">iii</span>] 52 <i>μ</i>m</div>
<div class="t" style="left:580px;width:86px;text-align:center;top:101px;font-size:13.5px">[O <span class="sc">i</span>] 63 <i>μ</i>m</div>
<div class="t" style="left:666px;width:94px;text-align:center;top:101px;font-size:13.5px">[O <span class="sc">i</span>] 145 <i>μ</i>m</div>
<div class="t" style="left:760px;width:87px;text-align:center;top:101px;font-size:13.5px">CO 186 <i>μ</i>m</div>
<div class="t" style="left:486px;width:94px;text-align:center;top:121px;font-size:13.5px">1244.8 ± 53</div>
<div class="t" style="left:580px;width:86px;text-align:center;top:121px;font-size:13.5px">1494.0 ± 42</div>
<div class="t" style="left:666px;width:94px;text-align:center;top:121px;font-size:13.5px">1110.1 ± 24</div>
<div class="t" style="left:760px;width:87px;text-align:center;top:121px;font-size:13.5px">1054.6 ± 29</div>
<div style="position:absolute;left:486px;top:149px;width:361px;font-size:12.8px;line-height:17px">
<div style="text-align:justify;text-align-last:justify;white-space:nowrap"><b>Table 1.</b> Background-subtracted continuum fluxes (in Jy)</div>
<div style="white-space:nowrap">for each bandpass observed with FIFI-LS.</div>
</div>
<div class="b" style="left:486px;top:213.6px;width:364px">
<div>ture where a 30% increase of aperture radius leads to</div>
<div>less than 10% increase of flux. Following this criterion,</div>
<div class="e">the optimal aperture radius is 30.0″.</div>
<div class="i">The measurement of continuum flux also follows</div>
<div>the approach as that in <span class="c">Fedriani et al.</span> (<span class="c">2023</span>). A</div>
<div>background-subtracted flux is measured from the 60″</div>
<div>aperture using <span style="font-family:'Liberation Mono',monospace;font-size:13px">SedFluxer</span> from the Python package</div>
<div><span style="font-family:'Liberation Mono',monospace;font-size:13px">sedcreator</span>, while the background is measured from</div>
<div>an annulus between one and two aperture radii (<i>r</i> =</div>
<div>30″ − 60″). We applied this approach to the contin-</div>
<div>uum images at Spitzer IRAC bands (3.6, 4.5, 5.8, and</div>
<div>8.0 <i>μ</i>m), WISE Band 3 and 4 at 12 and 22 <i>μ</i>m, four</div>
<div>wavelengths of the FIFI-LS observations presented in</div>
<div>this study, Herschel PACS 70 and 160 <i>μ</i>m (which can</div>
<div>be seen in panels VII and IX in Fig. <span class="c">1</span>), and Herschel</div>
<div>SPIRE 250, 350, and 500 <i>μ</i>m. In the 145 and 186 <i>μ</i>m</div>
<div>channels, the aperture size is comparable to the FoV of</div>
<div>the LW channel, which is only a few pixels smaller af-</div>
<div>ter masking out the bad pixels. However, the FoV at</div>
<div>52 and 63 <i>μ</i>m is substantially smaller than the aper-</div>
<div>ture. Thus, we interpolate the area outside the FoV of</div>
<div>the SW channel using the Herschel 70 <i>μ</i>m to estimate</div>
<div>the continuum flux within the aperture. This is accom-</div>
<div>plished by reprojecting the Herschel 70 <i>μ</i>m image to the</div>
<div>FIFI-LS pixel size/orientation, and then calculating the</div>
<div>proportion of fluxes within the FIFI-LS FOV in both</div>
<div>images. The Herschel 70 <i>μ</i>m image is then scaled using</div>
<div>this factor, where FIFI-LS data is not present. It is seen</div>
<div>from our larger survey sample that this slightly overes-</div>
<div>timates flux at these two wavelengths and, as such, the</div>
<div>52 and 63 <i>μ</i>m fluxes are treated as upper limits in our</div>
<div>SED fits. We similarly interpolate data from Herschel</div>
<div>160 <i>μ</i>m to FIFI-LS 145 and 186 <i>μ</i>m measurements. Due</div>
<div>to the larger FOV of these LW images, this interpolation</div>
<div class="e">only is relevant for small fractions of the annulus.</div>
<div class="i">We estimate the uncertainties of all the continuum</div>
<div>fluxes following the treatment also described in <span class="c">Fedri-</span></div>
<div><span class="c">ani et al.</span> (<span class="c">2023</span>). Specifically, the fluxes at &gt; 100 <i>μ</i>m</div>
<div>are expected to be contaminated by cold clump mate-</div>
<div>rial, which are taken as the background flux, whereas</div>
<div>the flux uncertainties at &lt; 100 <i>μ</i>m are dominated by</div>
<div>fluctuation (rms) noise, which was derived using the</div>
<div><span style="font-family:'Liberation Mono',monospace;font-size:13px">SedFluxer</span>. Depending on the wavelength, the fluctu-</div>
<div>ation fluxes or the background flux are combined with</div>
<div>10% of the continuum (background-subtracted) flux to</div>
<div>derive the uncertainty of the continuum flux. The SED</div>
</div>
</div>
</body></html>
